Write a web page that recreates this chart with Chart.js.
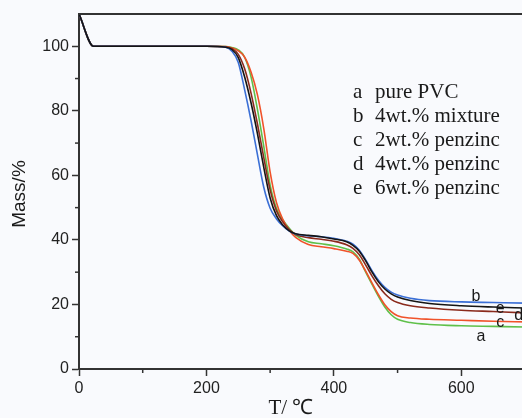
<!DOCTYPE html>
<html><head><meta charset="utf-8">
<script src="https://cdn.jsdelivr.net/npm/chart.js@4.4.0/dist/chart.umd.min.js"></script>
<style>
html,body{margin:0;padding:0;background:#f9fafd;overflow:hidden;width:522px;height:418px}
#wrap{position:absolute;left:0;top:0;width:540px;height:418px}
</style></head><body>
<div id="wrap"><canvas id="c" width="540" height="418"></canvas></div>
<script>
// Temperature (°C)
const temperature = [0, 23, 100, 200, 230, 240, 250, 260, 270, 280, 290, 300, 310, 320, 330, 340, 360, 380, 400, 420, 430, 440, 450, 460, 470, 480, 490, 500, 520, 550, 600, 650, 700];
// a pure PVC
const massA = [110, 100, 100, 100, 99.9, 99.6, 98.9, 96.6, 90.5, 80.5, 69, 57, 49.7, 46.2, 43.6, 41.5, 39.4, 38.8, 38.2, 37.2, 36.3, 34, 30, 26.2, 22.5, 19.2, 16.8, 15.4, 14.4, 13.8, 13.4, 13.2, 13.0];
// b 4wt.% mixture
const massB = [110, 100, 100, 100, 99.7, 98.5, 95, 86.5, 77, 66.5, 56.3, 49.8, 46.5, 44.3, 42.7, 41.8, 41.3, 41, 40.5, 39.6, 38.7, 36.8, 33.8, 30.4, 27.5, 25.3, 23.8, 22.9, 21.9, 21.2, 20.8, 20.6, 20.4];
// c 2wt.% penzinc
const massC = [110, 100, 100, 100, 99.9, 99.5, 98.6, 96.6, 92, 85, 74.5, 61, 51.5, 46.3, 43, 40.8, 38.6, 37.9, 37.3, 36.5, 35.8, 33.7, 30.3, 26.6, 23, 19.9, 17.8, 16.5, 15.8, 15.4, 15.1, 14.8, 14.6];
// d 4wt.% penzinc
const massD = [110, 100, 100, 100, 99.8, 99.3, 97.5, 93, 85.5, 76, 65.5, 55.5, 49, 45.5, 43.2, 41.7, 40.7, 40.2, 39.6, 38.5, 37.4, 35.4, 32.2, 28.8, 25.8, 23.3, 21.6, 20.6, 19.6, 18.9, 18.2, 17.8, 17.4];
// e 6wt.% penzinc
const massE = [110, 100, 100, 100, 99.7, 99, 96.5, 90.5, 82.5, 73, 62.5, 53, 47.5, 44.6, 42.8, 41.9, 41.4, 41, 40.3, 39.4, 38.3, 36.5, 33.5, 30, 27, 24.8, 23.3, 22.3, 21.2, 20.3, 19.6, 19.2, 18.9];

const seriesLetters = ['a', 'b', 'c', 'd', 'e'];
const seriesNames = ['pure PVC', '4wt.% mixture', '2wt.% penzinc', '4wt.% penzinc', '6wt.% penzinc'];
const xTickValues = [0, 200, 400, 600];
const yTickValues = [0, 20, 40, 60, 80, 100];
const xMinorTicks = [100, 300, 500];
const yMinorTicks = [10, 30, 50, 70, 90];

const colors = {a:'#5fc04a', b:'#3b6fd6', c:'#f0522a', d:'#8a2a1c', e:'#141414'};
const seriesData = {a:massA, b:massB, c:massC, d:massD, e:massE};
const drawOrder = {e:0, b:1, d:2, c:3, a:4};

// curve label anchors (data coords)
const curveLabelPos = {b:[623, 22.3], e:[661, 18.6], d:[690, 16.4], c:[661, 14.4], a:[631, 9.9]};

const datasets = seriesLetters.map(k => ({
  label: k,
  data: temperature.map((t, i) => ({x: t, y: seriesData[k][i]})),
  borderColor: colors[k],
  borderWidth: 1.6,
  pointRadius: 0,
  fill: false,
  cubicInterpolationMode: 'monotone',
  order: drawOrder[k]
}));

const AXIS = '#333';
const decor = {
  id: 'decor',
  beforeDraw(chart) {
    const ctx = chart.ctx;
    ctx.save();
    ctx.fillStyle = '#f9fafd';
    ctx.fillRect(0, 0, chart.width, chart.height);
    ctx.restore();
  },
  afterDraw(chart) {
    const ctx = chart.ctx, a = chart.chartArea, xs = chart.scales.x, ys = chart.scales.y;
    ctx.save();
    // top frame line
    ctx.strokeStyle = AXIS; ctx.lineWidth = 2;
    ctx.beginPath(); ctx.moveTo(a.left, a.top); ctx.lineTo(chart.width, a.top); ctx.stroke();
    // minor ticks
    ctx.lineWidth = 1.5;
    xMinorTicks.forEach(v => { const p = xs.getPixelForValue(v); ctx.beginPath(); ctx.moveTo(p, a.bottom); ctx.lineTo(p, a.bottom + 4); ctx.stroke(); });
    yMinorTicks.forEach(v => { const p = ys.getPixelForValue(v); ctx.beginPath(); ctx.moveTo(a.left, p); ctx.lineTo(a.left - 4, p); ctx.stroke(); });
    // legend text
    ctx.fillStyle = '#1a1a1a';
    ctx.font = '21px "Liberation Serif", "Times New Roman", serif';
    ctx.textBaseline = 'middle';
    ctx.textAlign = 'left';
    seriesLetters.forEach((k, i) => {
      const y = 92 + i * 24.2;
      ctx.fillText(k, 353, y);
      ctx.fillText(seriesNames[i], 375, y);
    });
    // curve labels
    ctx.font = '16px "Liberation Sans", Arial, sans-serif';
    ctx.textAlign = 'center';
    seriesLetters.forEach(k => {
      const [t, m] = curveLabelPos[k];
      ctx.fillText(k, xs.getPixelForValue(t), ys.getPixelForValue(m));
    });
    // axis titles
    ctx.font = '21px "Liberation Serif", "Times New Roman", serif';
    ctx.fillText('T/ \u2103', 291, 408);
    ctx.translate(20, 194);
    ctx.rotate(-Math.PI / 2);
    ctx.font = '19px "Liberation Sans", Arial, sans-serif';
    ctx.fillText('Mass/%', 0, 0);
    ctx.restore();
  }
};

new Chart(document.getElementById('c'), {
  type: 'line',
  data: { datasets },
  options: {
    responsive: false,
    animation: false,
    layout: { padding: { left: 0, right: 15, top: 14, bottom: 0 } },
    plugins: { legend: { display: false }, tooltip: { enabled: false } },
    scales: {
      x: {
        type: 'linear', min: 0, max: 700,
        afterFit(s) { s.height = 49; },
        afterBuildTicks(s) { s.ticks = xTickValues.map(v => ({value: v})); },
        border: { color: AXIS, width: 2 },
        grid: { drawOnChartArea: false, drawTicks: true, tickLength: 7, tickColor: AXIS, tickWidth: 1.5 },
        ticks: { color: '#222', font: { family: '"Liberation Sans", Arial, sans-serif', size: 16 }, padding: 3, maxRotation: 0, autoSkip: false }
      },
      y: {
        type: 'linear', min: 0, max: 110,
        afterFit(s) { s.width = 79; },
        afterBuildTicks(s) { s.ticks = yTickValues.map(v => ({value: v})); },
        border: { color: AXIS, width: 2 },
        grid: { drawOnChartArea: false, drawTicks: true, tickLength: 7, tickColor: AXIS, tickWidth: 1.5 },
        ticks: { color: '#222', font: { family: '"Liberation Sans", Arial, sans-serif', size: 16 }, padding: 3 }
      }
    }
  },
  plugins: [decor]
});
</script>
</body></html>
